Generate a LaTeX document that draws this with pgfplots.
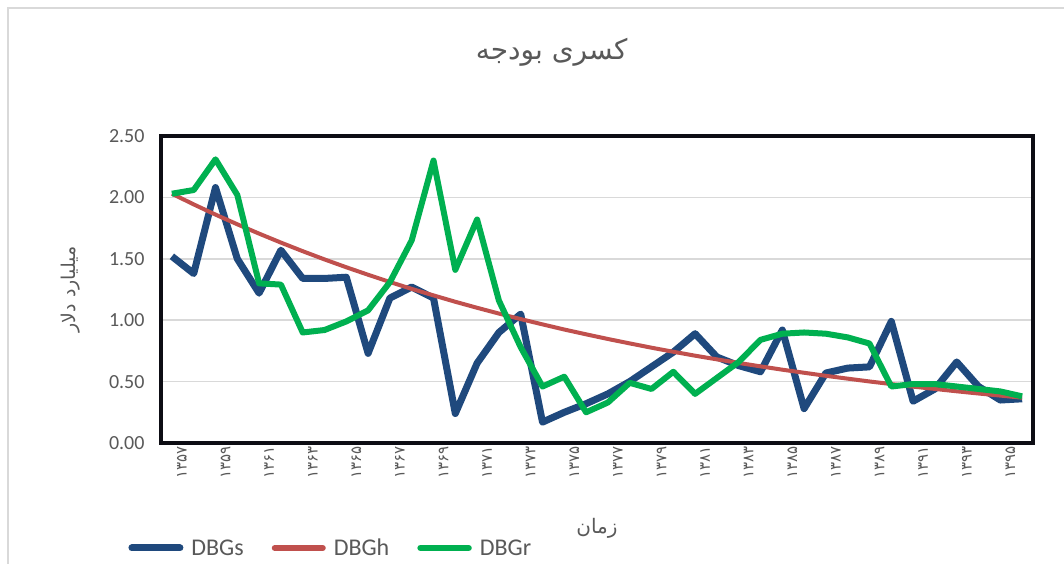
\documentclass[border=0pt]{standalone}
\usepackage{pgfplots}
\pgfplotsset{compat=1.18}
\usepackage{fontspec}
\setmainfont{Carlito}
\newfontfamily\arabicfont[Script=Arabic]{DejaVu Sans}
\TeXXeTstate=1
\definecolor{cblue}{HTML}{1F497D}
\definecolor{cred}{HTML}{C0504D}
\definecolor{cgreen}{HTML}{00B050}
\definecolor{tgray}{HTML}{595959}
\definecolor{ggray}{HTML}{D9D9D9}
\definecolor{framec}{HTML}{0D0D14}

\pgfplotstableread{
year val
1357 1.52
1358 1.38
1359 2.08
1360 1.50
1361 1.22
1362 1.57
1363 1.34
1364 1.34
1365 1.35
1366 0.73
1367 1.18
1368 1.27
1369 1.18
1370 0.24
1371 0.65
1372 0.90
1373 1.05
1374 0.17
1375 0.25
1376 0.32
1377 0.40
1378 0.50
1379 0.62
1380 0.74
1381 0.89
1382 0.70
1383 0.63
1384 0.58
1385 0.92
1386 0.28
1387 0.57
1388 0.61
1389 0.62
1390 0.99
1391 0.34
1392 0.44
1393 0.66
1394 0.46
1395 0.35
1396 0.36
}\dbgs

\pgfplotstableread{
year val
1357 2.030
1358 1.943
1359 1.860
1360 1.781
1361 1.705
1362 1.632
1363 1.562
1364 1.495
1365 1.431
1366 1.370
1367 1.311
1368 1.255
1369 1.202
1370 1.150
1371 1.101
1372 1.054
1373 1.009
1374 0.966
1375 0.924
1376 0.885
1377 0.847
1378 0.811
1379 0.776
1380 0.743
1381 0.711
1382 0.681
1383 0.652
1384 0.624
1385 0.597
1386 0.572
1387 0.547
1388 0.524
1389 0.501
1390 0.480
1391 0.459
1392 0.440
1393 0.421
1394 0.403
1395 0.386
1396 0.369
}\dbgh

\pgfplotstableread{
year val
1357 2.03
1358 2.06
1359 2.31
1360 2.02
1361 1.30
1362 1.29
1363 0.90
1364 0.92
1365 0.99
1366 1.08
1367 1.31
1368 1.65
1369 2.30
1370 1.41
1371 1.82
1372 1.16
1373 0.78
1374 0.46
1375 0.54
1376 0.25
1377 0.33
1378 0.49
1379 0.44
1380 0.58
1381 0.40
1382 0.53
1383 0.66
1384 0.84
1385 0.89
1386 0.90
1387 0.89
1388 0.86
1389 0.81
1390 0.46
1391 0.48
1392 0.48
1393 0.46
1394 0.44
1395 0.42
1396 0.38
}\dbgr

\begin{document}
\begin{tikzpicture}
\useasboundingbox (0,0) rectangle (1064bp,564bp);
\fill[white] (0,0) rectangle (1064bp,564bp);
\draw[ggray, line width=2bp] (8bp,0) -- (8bp,556bp) -- (1064bp,556bp);
\begin{axis}[
  at={(161bp,121bp)}, anchor=south west,
  scale only axis, width=872bp, height=307bp,
  xmin=1356.5, xmax=1396.5, ymin=0, ymax=2.5,
  clip=false,
  axis line style={framec, line width=3.5bp},
  major tick length=0pt,
  ymajorgrids, grid style={ggray, line width=1.5bp},
  ytick={0,0.5,1,1.5,2,2.5},
  /pgf/number format/assume math mode=true,
  yticklabel style={/pgf/number format/.cd, fixed, fixed zerofill, precision=2, /tikz/.cd,
    font=\fontsize{20bp}{20bp}\selectfont, text=tgray, anchor=east, xshift=-13bp},
  xtick={1357,1359,...,1395},
  xticklabels={۱۳۵۷,۱۳۵۹,۱۳۶۱,۱۳۶۳,۱۳۶۵,۱۳۶۷,۱۳۶۹,۱۳۷۱,۱۳۷۳,۱۳۷۵,۱۳۷۷,۱۳۷۹,۱۳۸۱,۱۳۸۳,۱۳۸۵,۱۳۸۷,۱۳۸۹,۱۳۹۱,۱۳۹۳,۱۳۹۵},
  xticklabel style={font=\arabicfont\fontsize{15bp}{15bp}\selectfont, text=tgray, rotate=90, anchor=east, yshift=-10bp},
  title={\arabicfont\beginR کسری بودجه\endR},
  title style={at={(axis description cs:0.448,1.254)}, anchor=center, font=\fontsize{28bp}{32bp}\selectfont, text=tgray},
  xlabel={\arabicfont\beginR زمان\endR},
  xlabel style={at={(axis description cs:0.5,-0.277)}, anchor=center, font=\fontsize{20bp}{22bp}\selectfont, text=tgray},
  ylabel={\arabicfont\beginR میلیارد دلار\endR},
  ylabel style={at={(axis description cs:-0.104,0.5)}, anchor=center, font=\fontsize{19bp}{22bp}\selectfont, text=tgray},
  legend style={at={(axis description cs:-0.041,-0.342)}, anchor=west, draw=none, fill=none,
    font=\fontsize{24bp}{26bp}\selectfont, text=tgray, legend columns=3,
    /tikz/every even column/.append style={column sep=26bp}},
  legend image code/.code={\draw[#1, line cap=round] (0bp,0bp) -- (48bp,0bp);\path (54bp,0bp);},
]
\addplot[cblue, line width=7bp, line join=round, forget plot] table[x=year,y=val]{\dbgs};
\addplot[cred, line width=4bp, line join=round, forget plot] table[x=year,y=val]{\dbgh};
\addplot[cgreen, line width=6bp, line join=round, forget plot] table[x=year,y=val]{\dbgr};
\addlegendimage{cblue, line width=7bp}
\addlegendentry{DBGs}
\addlegendimage{cred, line width=6bp}
\addlegendentry{DBGh}
\addlegendimage{cgreen, line width=6.5bp}
\addlegendentry{DBGr}
\end{axis}
\end{tikzpicture}
\end{document}
